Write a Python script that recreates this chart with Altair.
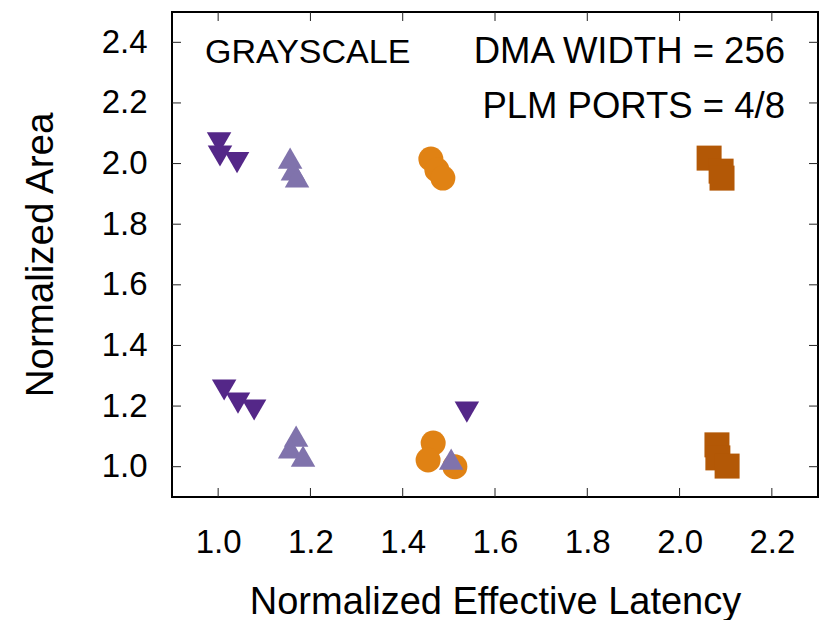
import altair as alt
import pandas as pd

# Series: dark purple (triangle-down)
dp_x = [1.002, 1.004, 1.041, 1.013, 1.043, 1.078, 1.539]
dp_y = [2.068, 2.025, 2.003, 1.253, 1.210, 1.187, 1.180]
# light purple (triangle-up)
lp_x = [1.156, 1.162, 1.171, 1.169, 1.156, 1.184, 1.505]
lp_y = [2.018, 1.979, 1.956, 1.101, 1.062, 1.035, 1.025]
# orange circles
or_x = [1.461, 1.474, 1.487, 1.466, 1.455, 1.513]
or_y = [2.015, 1.979, 1.952, 1.078, 1.022, 1.000]
# dark orange squares
do_x = [2.064, 2.090, 2.092, 2.081, 2.083, 2.103]
do_y = [2.018, 1.975, 1.952, 1.072, 1.029, 1.002]

x_ticks = [1.0, 1.2, 1.4, 1.6, 1.8, 2.0, 2.2]
y_ticks = [1.0, 1.2, 1.4, 1.6, 1.8, 2.0, 2.2, 2.4]

FONT = "Liberation Sans"
W, H = 646, 485
TICK = 9

xscale = alt.Scale(domain=[0.9, 2.3], nice=False, zero=False)
yscale = alt.Scale(domain=[0.9, 2.5], nice=False, zero=False)

xaxis = alt.Axis(values=x_ticks, format=".1f", title="Normalized Effective Latency",
                 grid=False, domain=False, ticks=False, tickSize=0,
                 labelFont=FONT, labelFontSize=33, labelColor="black",
                 labelPadding=29, labelFlush=False, labelOverlap=False,
                 titleFont=FONT, titleFontSize=38, titleFontWeight="normal",
                 titleColor="black", titleX=W / 2, titleY=116,
                 titleBaseline="alphabetic", titleAlign="center")
yaxis = alt.Axis(values=y_ticks, format=".1f", title="Normalized Area",
                 grid=False, domain=False, ticks=False, tickSize=0,
                 labelFont=FONT, labelFontSize=33, labelColor="black",
                 labelPadding=25, labelFlush=False, labelOverlap=False,
                 titleFont=FONT, titleFontSize=38.5, titleFontWeight="normal",
                 titleColor="black", titleX=-120, titleY=H / 2,
                 titleBaseline="alphabetic", titleAlign="center", titleAngle=270)

X = alt.X("x:Q", scale=xscale, axis=xaxis)
Y = alt.Y("y:Q", scale=yscale, axis=yaxis)


def pts(xs, ys, shape, color, size):
    df = pd.DataFrame({"x": xs, "y": ys})
    return alt.Chart(df).mark_point(shape=shape, filled=True, opacity=1,
                                    color=color, size=size, strokeWidth=0).encode(x=X, y=Y)


layers = [
    pts(do_x, do_y, "square", "#b35806", 625),
    pts(or_x, or_y, "circle", "#e08214", 625),
    pts(dp_x, dp_y, "triangle-down", "#542788", 600),
    pts(lp_x, lp_y, "triangle-up", "#8073ac", 600),
]

xt = pd.DataFrame({"x": x_ticks})
yt = pd.DataFrame({"y": y_ticks})
rule_style = dict(color="#222222", strokeWidth=1)
# inward ticks on all four sides
layers.append(alt.Chart(xt).mark_rule(**rule_style)
              .encode(x=X, y=alt.value(0), y2=alt.value(TICK)))
layers.append(alt.Chart(xt).mark_rule(**rule_style)
              .encode(x=X, y=alt.value(H - TICK), y2=alt.value(H)))
layers.append(alt.Chart(yt).mark_rule(**rule_style)
              .encode(y=Y, x=alt.value(0), x2=alt.value(TICK)))
layers.append(alt.Chart(yt).mark_rule(**rule_style)
              .encode(y=Y, x=alt.value(W - TICK), x2=alt.value(W)))

ann_text = ["GRAYSCALE", "DMA WIDTH = 256", "PLM PORTS = 4/8"]
ann = pd.DataFrame({"t": ann_text})
text_base = dict(font=FONT, color="black", baseline="alphabetic")
layers.append(alt.Chart(ann.iloc[[0]]).mark_text(align="left", fontSize=34, **text_base)
              .encode(text="t:N", x=alt.value(33), y=alt.value(51)))
layers.append(alt.Chart(ann.iloc[[1]]).mark_text(align="right", fontSize=36.5, **text_base)
              .encode(text="t:N", x=alt.value(613), y=alt.value(51)))
layers.append(alt.Chart(ann.iloc[[2]]).mark_text(align="right", fontSize=36.5, **text_base)
              .encode(text="t:N", x=alt.value(613), y=alt.value(106)))

chart = alt.layer(*layers).properties(
    width=W, height=H,
    autosize=alt.AutoSizeParams(type="none"),
    padding={"left": 172, "top": 12, "right": 9, "bottom": 123},
).configure(background="white").configure_view(stroke="black", strokeWidth=2)

chart.save("out.html", embed_options={"renderer": "svg", "actions": False})
